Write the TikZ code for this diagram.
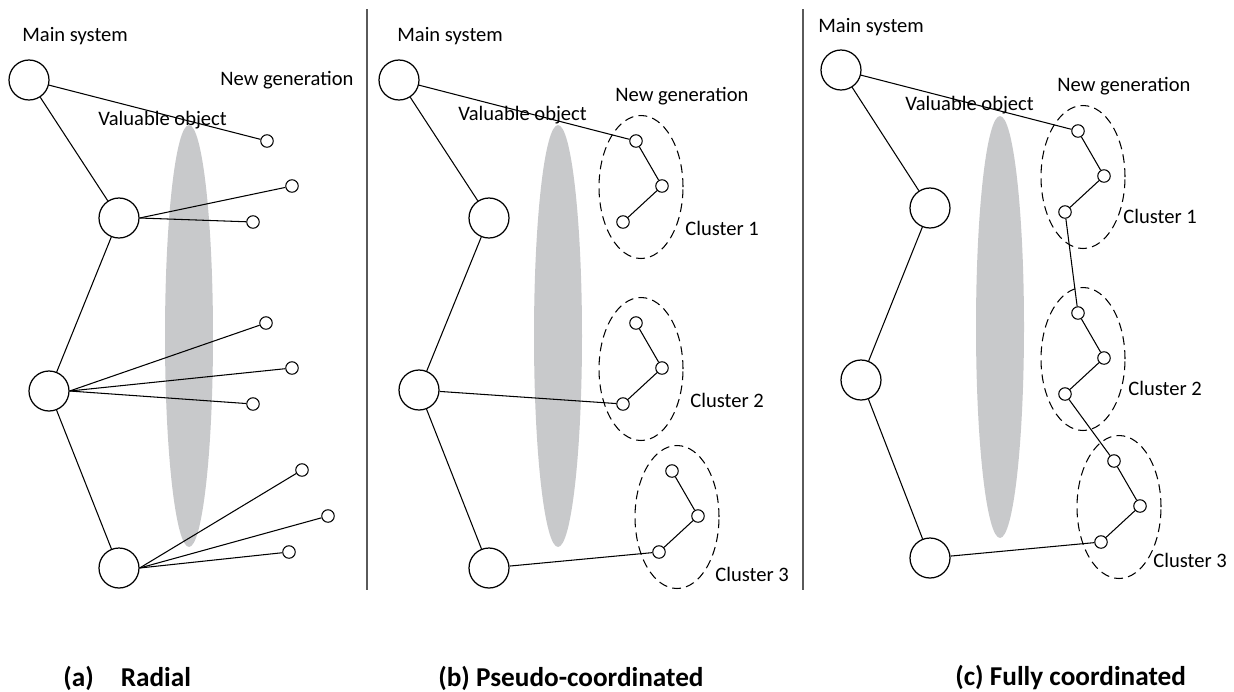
\documentclass[tikz,border=0pt]{standalone}
\usepackage{fontspec}
\setmainfont{Carlito}
\usepackage{tikz}
\usetikzlibrary{shapes.geometric}
\definecolor{objgray}{RGB}{200,201,203}
\definecolor{sepgray}{RGB}{90,90,90}
\tikzset{
    bignode/.style={circle, draw, line width=0.7pt, minimum size=0.8cm, inner sep=0pt},
    smallnode/.style={circle, draw, line width=0.6pt, minimum size=0.25cm, inner sep=0pt},
    cluster/.style={ellipse, draw, dash pattern=on 5pt off 3pt, line width=0.6pt,
        minimum width=1.68cm, minimum height=2.86cm, inner sep=0pt},
    valobj/.style={ellipse, fill=objgray, minimum width=0.96cm, minimum height=8.44cm, inner sep=0pt},
    thinline/.style={line width=0.6pt},
    sepline/.style={line width=1pt, sepgray},
    lbl/.style={anchor=west, inner sep=0pt, font=\fontsize{11.7}{14}\selectfont},
    captiontext/.style={anchor=west, inner sep=0pt, font=\fontsize{15.5}{18}\selectfont\bfseries},
}
\newcommand{\drawcluster}[3]{
  % three small nodes of a cluster and the dashed ellipse round them
  % parameter 1: name of the cluster (its nodes are #1a, #1b, #1c)
  % parameter 2: x of the first node
  % parameter 3: y of the first node
  \node[cluster] (#1) at (#2+5,#3+46) {};
  \node[smallnode] (#1a) at (#2,#3) {};
  \node[smallnode] (#1b) at (#2+26,#3+45) {};
  \node[smallnode] (#1c) at (#2-13,#3+81) {};
  \draw[thinline] (#1a) -- (#1b) -- (#1c);
}

\begin{document}
\begin{tikzpicture}[x=0.02cm, y=-0.02cm]
    \useasboundingbox (0,0) rectangle (1234,691);

        % (a) radial
        \node[valobj] (aobj) at (189,336) {};
        \node[lbl] (amain) at (22,36) {Main system};
        \node[lbl] (anew) at (220,80) {New generation};
        \node[lbl] (aval) at (98,120) {Valuable object};
        \node[bignode] (a1) at (29,80) {};
        \node[bignode] (a2) at (119,218) {};
        \node[bignode] (a3) at (49,391) {};
        \node[bignode] (a4) at (119,568) {};
        \node[smallnode] (a1s1) at (267,141) {};
        \node[smallnode] (a2s1) at (292,186) {};
        \node[smallnode] (a2s2) at (253,222) {};
        \node[smallnode] (a3s1) at (266,323) {};
        \node[smallnode] (a3s2) at (292,368) {};
        \node[smallnode] (a3s3) at (253,404) {};
        \node[smallnode] (a4s1) at (302,470) {};
        \node[smallnode] (a4s2) at (328,516) {};
        \node[smallnode] (a4s3) at (289,552) {};
        \draw[thinline] (a1) -- (a2) -- (a3) -- (a4);
        \draw[thinline] (a1) -- (a1s1);
        \draw[thinline] (a2.east) -- (a2s1);
        \draw[thinline] (a2.east) -- (a2s2);
        \draw[thinline] (a3.east) -- (a3s1);
        \draw[thinline] (a3.east) -- (a3s2);
        \draw[thinline] (a3.east) -- (a3s3);
        \draw[thinline] (a4.east) -- (a4s1);
        \draw[thinline] (a4.east) -- (a4s2);
        \draw[thinline] (a4.east) -- (a4s3);

        \coordinate (sep1top) at (367,9);
        \coordinate (sep1bot) at (367,590);
        \draw[sepline] (sep1top) -- (sep1bot);

        % (b) pseudo-coordinated
        \begin{scope}[shift={(370,0)}]
          \node[valobj] (bobj) at (188,336) {};
          \node[lbl] (bmain) at (27,36) {Main system};
          \node[lbl] (bnew) at (245,96) {New generation};
          \node[lbl] (bval) at (88,115) {Valuable object};
          \node[bignode] (b1) at (29,80) {};
          \node[bignode] (b2) at (119,218) {};
          \node[bignode] (b3) at (49,390) {};
          \node[bignode] (b4) at (119,568) {};
          \drawcluster{bcl1}{266}{141}
          \drawcluster{bcl2}{266}{323}
          \drawcluster{bcl3}{302}{471}
          \node[lbl] (bcl1name) at (315,228) {Cluster 1};
          \node[lbl] (bcl2name) at (320,400) {Cluster 2};
          \node[lbl] (bcl3name) at (345,574) {Cluster 3};
          \draw[thinline] (b1) -- (b2) -- (b3) -- (b4);
          \draw[thinline] (b1) -- (bcl1a);
          \draw[thinline] (b3) -- (bcl2c);
          \draw[thinline] (b4) -- (bcl3c);
        \end{scope}

        \coordinate (sep2top) at (803,9);
        \coordinate (sep2bot) at (803,590);
        \draw[sepline] (sep2top) -- (sep2bot);

        % (c) fully coordinated
        \begin{scope}[shift={(812,-10)}]
          \node[valobj] (cobj) at (188,337) {};
          \node[lbl] (cmain) at (6,37) {Main system};
          \node[lbl] (cnew) at (245,96) {New generation};
          \node[lbl] (cval) at (93,115) {Valuable object};
          \node[bignode] (c1) at (29,80) {};
          \node[bignode] (c2) at (118,218) {};
          \node[bignode] (c3) at (49,390) {};
          \node[bignode] (c4) at (118,568) {};
          \drawcluster{ccl1}{266}{141}
          \drawcluster{ccl2}{266}{323}
          \drawcluster{ccl3}{302}{471}
          \node[lbl] (ccl1name) at (311,226) {Cluster 1};
          \node[lbl] (ccl2name) at (316,398) {Cluster 2};
          \node[lbl] (ccl3name) at (341,570) {Cluster 3};
          \draw[thinline] (c1) -- (c2) -- (c3) -- (c4);
          \draw[thinline] (c1) -- (ccl1a);
          \draw[thinline] (ccl1c) -- (ccl2a);
          \draw[thinline] (ccl2c) -- (ccl3a);
          \draw[thinline] (c4) -- (ccl3c);
        \end{scope}

        \node[captiontext] (capa) at (63,678) {(a)\hspace{0.54cm}Radial};
        \node[captiontext] (capb) at (438,678) {(b) Pseudo-coordinated};
        \node[captiontext] (capc) at (955,678) {(c) Fully coordinated};
  \end{tikzpicture}
\end{document}
